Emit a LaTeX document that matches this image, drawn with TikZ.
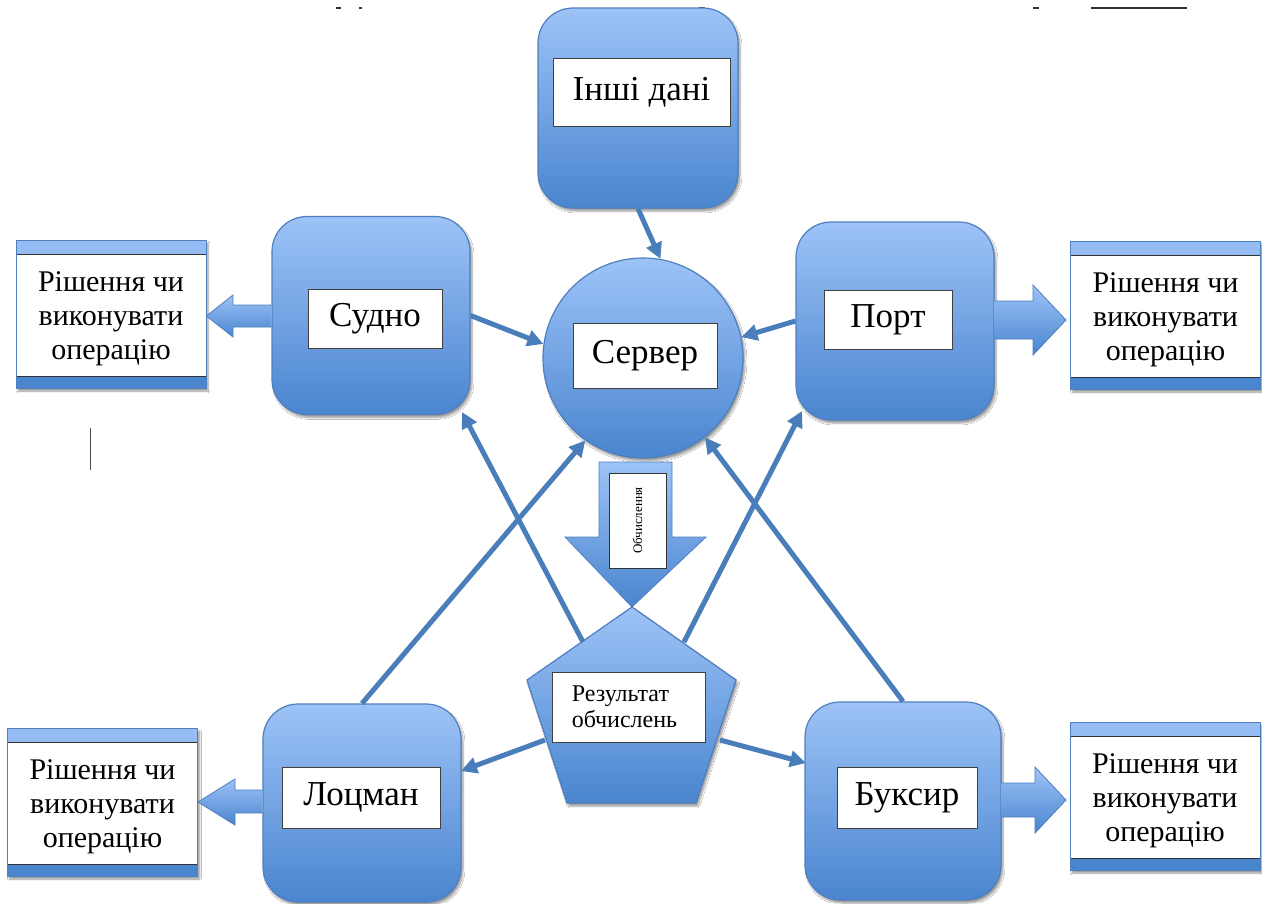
\documentclass[tikz,border=0pt]{standalone}
\usepackage{fontspec}
\setmainfont{Liberation Serif}
\usetikzlibrary{arrows.meta,shadows.blur,calc}
\definecolor{blueL}{HTML}{9DC3F7}
\definecolor{blueD}{HTML}{4A85CF}
\definecolor{blueB}{HTML}{4F7FBF}
\definecolor{arr}{HTML}{4A7EBB}
\tikzset{
  blk/.style={draw=blueB, line width=1.2pt, rounded corners=35pt, top color=blueL, bottom color=blueD,
    minimum width=198pt, minimum height=198pt, blur shadow={shadow blur steps=6, shadow xshift=2pt, shadow yshift=-3pt}},
  lbl/.style={draw=black!75, line width=0.8pt, fill=white, font=\fontsize{35}{38}\selectfont, inner sep=0pt},
  dec/.style={draw=blueB, line width=0.8pt, fill=white, minimum width=190pt, minimum height=148pt,
    inner sep=0pt,
    blur shadow={shadow blur steps=6, shadow xshift=2pt, shadow yshift=-3pt},
    path picture={
      \fill[blueL!90!blueD] (path picture bounding box.north west) rectangle ([yshift=-14pt]path picture bounding box.north east);
      \fill[blueD] (path picture bounding box.south west) rectangle ([yshift=12pt]path picture bounding box.south east);
      \draw[black!80, line width=0.8pt] ([yshift=-14pt]path picture bounding box.north west) -- ([yshift=-14pt]path picture bounding box.north east);
      \draw[black!80, line width=0.8pt] ([yshift=12pt]path picture bounding box.south west) -- ([yshift=12pt]path picture bounding box.south east);
    }},
  dectxt/.style={align=center, font=\fontsize{30}{34}\selectfont, inner sep=0pt},
  con/.style={draw=arr, line width=5pt, -{Triangle[length=16pt,width=16pt]}},
  barrow/.style={draw=blueB, line width=0.8pt, top color=blueL, bottom color=blueD},
}
\begin{document}
\begin{tikzpicture}[x=1pt,y=-1pt]
\useasboundingbox (0,0) rectangle (1262,903);
\fill[white] (0,0) rectangle (1262,903);

% stray marks
\draw[black!70, line width=1pt] (90,428) -- (90,470);
\draw[black!80, line width=1.5pt] (1091,8) -- (1187,8);
\draw[black!80, line width=1.5pt] (336,8) -- (341,8) (359,8) -- (362,8) (699,8) -- (705,8) (1033,8) -- (1039,8);

% main blocks
\node[blk, minimum width=200pt, minimum height=200pt] (inshi) at (638,108) {};
\node[blk] (sudno) at (371,315.5) {};
\node[blk] (port) at (895,321) {};
\node[blk] (lotsman) at (362,803) {};
\node[blk, minimum width=196pt] (buksyr) at (903,801) {};
\node[draw=blueB, line width=1.2pt, circle, minimum size=200pt, top color=blueL, bottom color=blueD,
  blur shadow={shadow blur steps=6, shadow xshift=2pt, shadow yshift=-3pt}] (server) at (643,358) {};

% pentagon
\coordinate (pT) at (632,607);
\coordinate (pL) at (527,680);
\coordinate (pR) at (736,680);
\coordinate (pBL) at (567,803);
\coordinate (pBR) at (696,803);
\path[draw=blueB, line width=1.2pt, top color=blueL, bottom color=blueD,
  blur shadow={shadow blur steps=6, shadow xshift=2pt, shadow yshift=-3pt}]
  (pT) -- (pR) -- (pBR) -- (pBL) -- (pL) -- cycle;
\coordinate (pUL) at (583,642);
\coordinate (pUR) at (684,642);
\coordinate (pLL) at (545,740);
\coordinate (pLR) at (720,740);

% computation arrow
\path[barrow] (599,462) -- (672,462) -- (672,537) -- (706,537) -- (632,607) -- (565,537) -- (599,537) -- cycle;
\node[draw=black!80, line width=0.8pt, fill=white, minimum width=57pt, minimum height=95pt, inner sep=0pt] (obch) at (637.5,520.5) {};
\node[rotate=90, font=\fontsize{13}{15}\selectfont] (obchtxt) at (obch.center) {Обчислення};

% labels
\node[lbl, minimum width=177pt, minimum height=68pt] (linshi) at (641.5,92) {Інші дані};
\node[lbl, minimum width=134pt, minimum height=59pt] (lsudno) at (375,318.5) {Судно};
\node[lbl, minimum width=128pt, minimum height=59pt] (lport) at (888,319.5) {Порт};
\node[lbl, minimum width=144pt, minimum height=65pt] (lserver) at (645,355.5) {Сервер};
\node[lbl, minimum width=158pt, minimum height=61pt] (llotsman) at (361,797.5) {Лоцман};
\node[lbl, minimum width=140pt, minimum height=61pt] (lbuksyr) at (907,797.5) {Буксир};
\node[lbl, minimum width=153pt, minimum height=70pt] (lres) at (628.5,707) {};
\node[font=\fontsize{24}{26}\selectfont, align=left, anchor=west, inner sep=0pt] (lrestxt) at ([xshift=20pt]lres.west) {Результат\\обчислень};

% decision boxes
\node[dec] (d1) at (111,314) {};
\node[dec] (d2) at (1165.5,315) {};
\node[dec] (d3) at (102.5,802) {};
\node[dec] (d4) at (1165,796) {};
\node[dectxt] (t1) at ([yshift=-5pt]d1.center) {Рішення чи\\виконувати\\операцію};
\node[dectxt] (t2) at ([yshift=-5pt]d2.center) {Рішення чи\\виконувати\\операцію};
\node[dectxt] (t3) at ([yshift=-5pt]d3.center) {Рішення чи\\виконувати\\операцію};
\node[dectxt] (t4) at ([yshift=-5pt]d4.center) {Рішення чи\\виконувати\\операцію};

% block arrows to decisions
\path[barrow] (sudno.west |- 0,305) -- (233,305) -- (233,295) -- (d1.east |- 0,316) -- (233,337) -- (233,327) -- (sudno.west |- 0,327);
\path[barrow] (port.east |- 0,301) -- (1033,301) -- (1033,285) -- (1066,320) -- (1033,355) -- (1033,339) -- (port.east |- 0,339);
\path[barrow] (lotsman.west |- 0,790) -- (235,790) -- (235,779) -- (d3.east |- 0,802) -- (235,825) -- (235,813) -- (lotsman.west |- 0,813);
\path[barrow] (buksyr.east |- 0,783) -- (1035,783) -- (1035,767) -- (1066,800) -- (1035,833) -- (1035,817) -- (buksyr.east |- 0,817);

% connectors
\draw[con] (inshi.south) -- (server.80);
\draw[con] (sudno.east) -- (server.172);
\draw[con] (port.west) -- (server.12);
\draw[con] (pUL) -- (462,412);
\draw[con] (lotsman.north) -- (server.235);
\draw[con] (pUR) -- (802,411);
\draw[con] (buksyr.north) -- (server.-52);
\draw[con] (pLL) -- (461,771);
\draw[con] (pLR) -- (806,763);
\end{tikzpicture}
\end{document}
